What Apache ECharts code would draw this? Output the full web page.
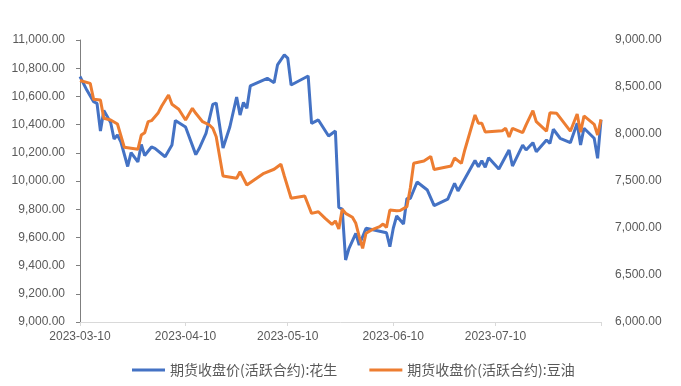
<!DOCTYPE html>
<html><head><meta charset="utf-8">
<script src="https://cdn.jsdelivr.net/npm/echarts@6/dist/echarts.min.js"></script>
<style>html,body{margin:0;padding:0;background:#fff}#c{width:681px;height:386px}</style>
</head><body><div id="c"></div>
<script>
const seriesNames = ['期货收盘价(活跃合约):花生', '期货收盘价(活跃合约):豆油'];

const peanutDates = ['2023-03-10','2023-03-12','2023-03-14','2023-03-15','2023-03-16','2023-03-17','2023-03-19','2023-03-20','2023-03-21','2023-03-22','2023-03-24','2023-03-25','2023-03-27','2023-03-28','2023-03-29','2023-03-31','2023-04-01','2023-04-04','2023-04-06','2023-04-07','2023-04-10','2023-04-13','2023-04-14','2023-04-16','2023-04-18','2023-04-19','2023-04-21','2023-04-23','2023-04-25','2023-04-26','2023-04-27','2023-04-28','2023-04-29','2023-05-04','2023-05-06','2023-05-07','2023-05-09','2023-05-10','2023-05-11','2023-05-16','2023-05-17','2023-05-19','2023-05-22','2023-05-24','2023-05-25','2023-05-26','2023-05-27','2023-05-28','2023-05-30','2023-05-31','2023-06-02','2023-06-08','2023-06-09','2023-06-10','2023-06-11','2023-06-13','2023-06-14','2023-06-15','2023-06-17','2023-06-20','2023-06-22','2023-06-26','2023-06-28','2023-06-29','2023-07-04','2023-07-05','2023-07-06','2023-07-07','2023-07-08','2023-07-11','2023-07-14','2023-07-15','2023-07-18','2023-07-19','2023-07-21','2023-07-22','2023-07-25','2023-07-26','2023-07-27','2023-07-29','2023-08-01','2023-08-03','2023-08-04','2023-08-05','2023-08-08','2023-08-09','2023-08-10'];
const peanutValues = [10741,10645,10562,10550,10355,10500,10415,10298,10326,10277,10103,10201,10135,10259,10181,10241,10232,10172,10255,10429,10383,10187,10230,10337,10543,10553,10234,10383,10596,10468,10557,10516,10674,10728,10697,10823,10894,10872,10681,10745,10409,10433,10319,10355,9812,9801,9440,9523,9629,9546,9665,9633,9534,9665,9752,9695,9876,9876,9993,9936,9826,9872,9984,9929,10145,10101,10144,10097,10165,10085,10220,10106,10255,10220,10272,10208,10291,10267,10367,10303,10272,10409,10255,10374,10303,10161,10433];

const oilDates = ['2023-03-10','2023-03-13','2023-03-14','2023-03-16','2023-03-17','2023-03-19','2023-03-21','2023-03-23','2023-03-25','2023-03-27','2023-03-28','2023-03-29','2023-03-30','2023-03-31','2023-04-02','2023-04-03','2023-04-05','2023-04-06','2023-04-08','2023-04-10','2023-04-12','2023-04-13','2023-04-15','2023-04-17','2023-04-18','2023-04-19','2023-04-21','2023-04-25','2023-04-26','2023-04-28','2023-05-03','2023-05-06','2023-05-08','2023-05-09','2023-05-11','2023-05-15','2023-05-17','2023-05-19','2023-05-21','2023-05-23','2023-05-24','2023-05-25','2023-05-26','2023-05-27','2023-05-29','2023-05-30','2023-05-31','2023-06-01','2023-06-02','2023-06-04','2023-06-06','2023-06-07','2023-06-08','2023-06-09','2023-06-11','2023-06-12','2023-06-14','2023-06-15','2023-06-16','2023-06-19','2023-06-21','2023-06-22','2023-06-27','2023-06-28','2023-06-30','2023-07-01','2023-07-04','2023-07-05','2023-07-06','2023-07-07','2023-07-12','2023-07-13','2023-07-14','2023-07-15','2023-07-18','2023-07-19','2023-07-21','2023-07-22','2023-07-25','2023-07-26','2023-07-28','2023-08-01','2023-08-03','2023-08-04','2023-08-05','2023-08-08','2023-08-09','2023-08-10'];
const oilValues = [8569,8539,8369,8362,8167,8149,8106,7859,7848,7837,7989,8014,8131,8142,8227,8298,8415,8316,8263,8149,8273,8220,8131,8096,8061,7971,7553,7529,7599,7457,7582,7625,7678,7553,7316,7340,7156,7173,7103,7039,7075,6989,7199,7156,7114,7050,6907,6784,6944,6986,7014,7043,7007,7192,7184,7186,7227,7426,7688,7713,7761,7622,7660,7745,7688,7830,8202,8114,8114,8021,8035,8061,7968,8061,8014,8096,8248,8131,8030,8227,8220,8030,8213,8019,8192,8103,7989,8156];

const xTickDates = ['2023-03-10','2023-04-10','2023-05-10','2023-06-10','2023-07-10','2023-08-10'];
const xLabelDates = ['2023-03-10','2023-04-10','2023-05-10','2023-06-10','2023-07-10'];
const leftAxisRange = [9000, 11000, 200];
const rightAxisRange = [6000, 9000, 500];

function ts(s) { const p = s.split('-').map(Number); return Date.UTC(p[0], p[1] - 1, p[2]); }
function pad(n) { return (n < 10 ? '0' : '') + n; }
function fmtDate(v) { const d = new Date(v); return d.getUTCFullYear() + '-' + pad(d.getUTCMonth() + 1) + '-' + pad(d.getUTCDate()); }
function fmtNum(v) { return Number(v).toLocaleString('en-US', {minimumFractionDigits: 2, maximumFractionDigits: 2}); }

const labelColor = '#595959';
const font = 'Liberation Sans';

const chart = echarts.init(document.getElementById('c'), null, {renderer: 'canvas'});
chart.setOption({
  animation: false,
  backgroundColor: '#fff',
  grid: {left: 80, right: 80, top: 40, bottom: 64, containLabel: false},
  legend: {
    data: seriesNames,
    top: 358,
    left: 127,
    icon: 'rect',
    itemWidth: 33,
    itemHeight: 3,
    itemGap: 32,
    textStyle: {color: labelColor, fontSize: 14, fontFamily: 'Noto Sans CJK SC'}
  },
  xAxis: {
    type: 'value',
    min: ts(xTickDates[0]),
    max: ts(xTickDates[xTickDates.length - 1]),
    axisLine: {show: true, onZero: false, lineStyle: {color: '#D9D9D9', width: 1}},
    axisTick: {show: true, customValues: xTickDates.map(ts), length: 4, lineStyle: {color: '#D9D9D9'}},
    axisLabel: {customValues: xLabelDates.map(ts), formatter: fmtDate, color: labelColor, fontSize: 12, fontFamily: font, margin: 9},
    splitLine: {show: false}
  },
  yAxis: [
    {
      type: 'value', position: 'left',
      min: leftAxisRange[0], max: leftAxisRange[1], interval: leftAxisRange[2],
      axisLine: {show: true, lineStyle: {color: '#7F7F7F', width: 1}},
      axisTick: {show: true, inside: false, length: 4, lineStyle: {color: '#7F7F7F'}},
      axisLabel: {formatter: fmtNum, color: labelColor, fontSize: 12, fontFamily: font, margin: 15},
      splitLine: {show: false}
    },
    {
      type: 'value', position: 'right',
      min: rightAxisRange[0], max: rightAxisRange[1], interval: rightAxisRange[2],
      axisLine: {show: false},
      axisTick: {show: false},
      axisLabel: {formatter: fmtNum, color: labelColor, fontSize: 12, fontFamily: font, margin: 14},
      splitLine: {show: false}
    }
  ],
  series: [
    {
      name: seriesNames[0], type: 'line', yAxisIndex: 0, symbol: 'none', smooth: false,
      lineStyle: {color: '#4472C4', width: 3}, itemStyle: {color: '#4472C4'},
      data: peanutDates.map((d, i) => [ts(d), peanutValues[i]])
    },
    {
      name: seriesNames[1], type: 'line', yAxisIndex: 1, symbol: 'none', smooth: false,
      lineStyle: {color: '#ED7D31', width: 3}, itemStyle: {color: '#ED7D31'},
      data: oilDates.map((d, i) => [ts(d), oilValues[i]])
    }
  ]
});
</script>
</body></html>
